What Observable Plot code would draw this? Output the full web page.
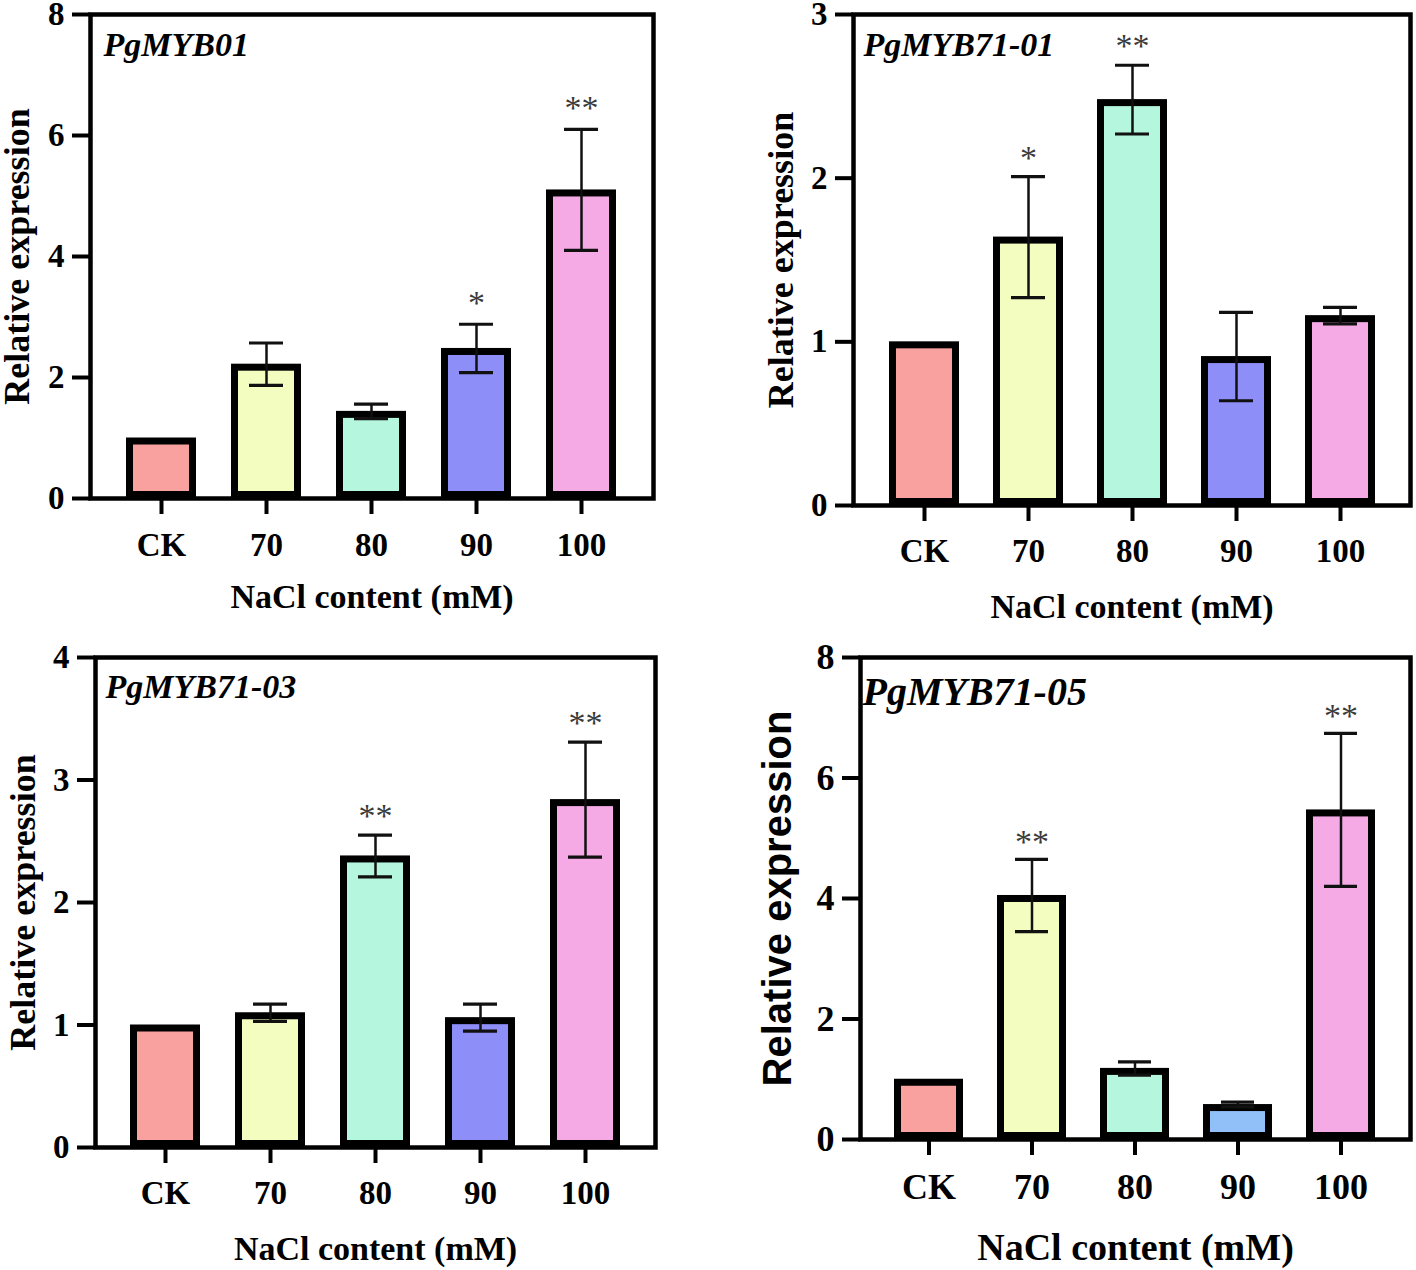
<!DOCTYPE html>
<html>
<head>
<meta charset="utf-8">
<script src="https://cdn.jsdelivr.net/npm/d3@7"></script>
<script src="https://cdn.jsdelivr.net/npm/@observablehq/plot@0.6"></script>
<style>
  html, body { margin: 0; padding: 0; background: #fff; }
  #root { position: relative; width: 1416px; height: 1270px; overflow: hidden; background: #fff; }
  .panel { position: absolute; }
</style>
</head>
<body>
<div id="root"></div>
<script>
// ---- data ----
const categories = ["CK", "70", "80", "90", "100"];
const xTitle = "NaCl content (mM)";
const yTitle = "Relative expression";

const barColors = ["#F9A19F", "#F4FDC0", "#B4F6DE", "#8E8EF9", "#F5AAE6"];
const barColors05 = ["#F9A19F", "#F4FDC0", "#B4F6DE", "#90C0F7", "#F5AAE6"];

const genes = ["PgMYB01", "PgMYB71-01", "PgMYB71-03", "PgMYB71-05"];

const mean01 = [1.0, 2.22, 1.44, 2.48, 5.1];
const sd01 = [0, 0.35, 0.12, 0.40, 1.0];
const sig01 = ["", "", "", "*", "**"];
const yTicks01 = [0, 2, 4, 6, 8];

const mean7101 = [1.0, 1.64, 2.48, 0.91, 1.16];
const sd7101 = [0, 0.37, 0.21, 0.27, 0.05];
const sig7101 = ["", "*", "**", "", ""];
const yTicks7101 = [0, 1, 2, 3];

const mean7103 = [1.0, 1.1, 2.38, 1.06, 2.84];
const sd7103 = [0, 0.07, 0.17, 0.11, 0.47];
const sig7103 = ["", "", "**", "", "**"];
const yTicks7103 = [0, 1, 2, 3, 4];

const mean7105 = [1.0, 4.05, 1.18, 0.58, 5.47];
const sd7105 = [0, 0.6, 0.11, 0.04, 1.27];
const sig7105 = ["", "**", "", "", "**"];
const yTicks7105 = [0, 2, 4, 6, 8];

const SERIF = "'Liberation Serif', 'Times New Roman', Times, serif";
const SANS = "'Liberation Sans', Arial, Helvetica, sans-serif";

function makePanel(cfg) {
  const data = categories.map((c, i) => ({
    cat: c, mean: cfg.mean[i], sd: cfg.sd[i], sig: cfg.sig[i], color: cfg.colors[i]
  }));
  const eb = data.filter(d => d.sd > 0);
  const capInset = 18;
  return Plot.plot({
    width: cfg.width,
    height: cfg.height,
    marginLeft: cfg.ml, marginRight: cfg.mr, marginTop: cfg.mt, marginBottom: cfg.mb,
    style: {fontFamily: SERIF, fontSize: cfg.tickFont + "px", fontWeight: "bold", color: "#000", background: "transparent", overflow: "visible"},
    x: {domain: categories, paddingInner: 0.33, paddingOuter: 0.33, label: null, axis: null},
    y: {domain: [0, cfg.ticks[cfg.ticks.length - 1]], label: null, axis: null},
    color: {type: "identity"},
    marks: [
      Plot.barY(data, {x: "cat", y: "mean", fill: "color", stroke: "#000", strokeWidth: 7, inset: 3.5}),
      Plot.ruleX(eb, {x: "cat", y1: d => d.mean - d.sd, y2: d => d.mean + d.sd, stroke: "#111", strokeWidth: 2.5}),
      Plot.tickY(eb, {x: "cat", y: d => d.mean + d.sd, insetLeft: capInset, insetRight: capInset, stroke: "#111", strokeWidth: 3.2}),
      Plot.tickY(eb, {x: "cat", y: d => d.mean - d.sd, insetLeft: capInset, insetRight: capInset, stroke: "#111", strokeWidth: 3.2}),
      Plot.text(data.filter(d => d.sig), {x: "cat", y: d => d.mean + d.sd, text: "sig", lineAnchor: "bottom", dy: cfg.starDy,
        fontSize: cfg.starFont, fontWeight: "normal", fill: "#3a3a3a", fontFamily: SERIF}),
      Plot.frame({stroke: "#000", strokeWidth: 4.5}),
      Plot.axisY({ticks: cfg.ticks, tickSize: 18, tickPadding: 8, strokeWidth: 4, tickFormat: d => String(d),
        fontSize: cfg.tickFont, fontWeight: "bold", fontFamily: SERIF, label: null}),
      Plot.axisX({tickSize: 16, tickPadding: cfg.xTickPad, strokeWidth: 4,
        fontSize: cfg.tickFont, fontWeight: "bold", fontFamily: SERIF, label: null}),
      Plot.text([cfg.gene], {frameAnchor: "top-left", textAnchor: "start", lineAnchor: "middle", dx: cfg.geneDx, dy: cfg.geneDy,
        fontSize: cfg.geneFont, fontStyle: "italic", fontWeight: "bold", fontFamily: SERIF, fill: "#000"}),
      Plot.text([xTitle], {frameAnchor: "bottom", textAnchor: "middle", lineAnchor: "middle", dy: cfg.xTitleDy,
        fontSize: cfg.xTitleFont, fontWeight: "bold", fontFamily: SERIF, fill: "#000"}),
      Plot.text([yTitle], {frameAnchor: "left", textAnchor: "middle", lineAnchor: "middle", rotate: -90, dx: cfg.yTitleDx,
        fontSize: cfg.yTitleFont, fontWeight: "bold", fontFamily: cfg.yTitleFamily, fill: "#000"})
    ]
  });
}

const panels = [
  {left: 0, top: 0, width: 700, height: 630, ml: 90, mr: 47, mt: 14, mb: 132,
   mean: mean01, sd: sd01, sig: sig01, colors: barColors, ticks: yTicks01, gene: genes[0],
   tickFont: 33, starFont: 34, starDy: -10, geneFont: 34, geneDx: 13, geneDy: 31, xTickPad: 18,
   xTitleDy: 99, xTitleFont: 34, yTitleDx: -73, yTitleFont: 36, yTitleFamily: SERIF},
  {left: 708, top: 0, width: 708, height: 635, ml: 145, mr: 6, mt: 14, mb: 130,
   mean: mean7101, sd: sd7101, sig: sig7101, colors: barColors, ticks: yTicks7101, gene: genes[1],
   tickFont: 33, starFont: 34, starDy: -8, geneFont: 34, geneDx: 10, geneDy: 31, xTickPad: 17,
   xTitleDy: 102, xTitleFont: 34, yTitleDx: -72, yTitleFont: 36, yTitleFamily: SERIF},
  {left: 0, top: 640, width: 700, height: 630, ml: 95, mr: 45, mt: 17, mb: 123,
   mean: mean7103, sd: sd7103, sig: sig7103, colors: barColors, ticks: yTicks7103, gene: genes[2],
   tickFont: 33, starFont: 34, starDy: -8, geneFont: 34, geneDx: 10, geneDy: 30, xTickPad: 17,
   xTitleDy: 102, xTitleFont: 34, yTitleDx: -72, yTitleFont: 36, yTitleFamily: SERIF},
  {left: 708, top: 640, width: 708, height: 630, ml: 152, mr: 6, mt: 17, mb: 131,
   mean: mean7105, sd: sd7105, sig: sig7105, colors: barColors05, ticks: yTicks7105, gene: genes[3],
   tickFont: 36, starFont: 34, starDy: -6, geneFont: 40, geneDx: 2, geneDy: 35, xTickPad: 18,
   xTitleDy: 108, xTitleFont: 38, yTitleDx: -82, yTitleFont: 40, yTitleFamily: SANS}
];

const root = document.getElementById("root");
for (const p of panels) {
  const div = document.createElement("div");
  div.className = "panel";
  div.style.left = p.left + "px";
  div.style.top = p.top + "px";
  div.appendChild(makePanel(p));
  root.appendChild(div);
}
</script>
</body>
</html>
